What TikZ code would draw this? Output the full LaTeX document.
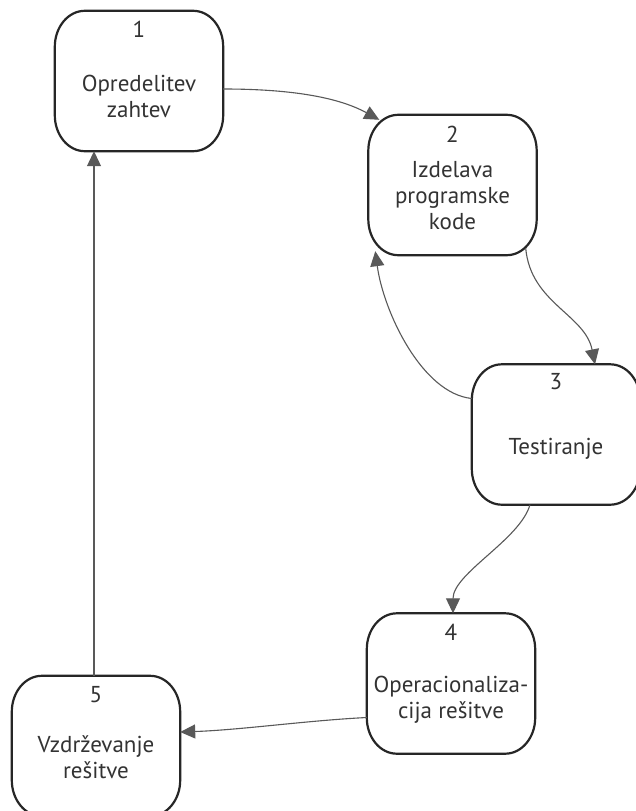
\documentclass[tikz,border=0pt]{standalone}
\usepackage{fontspec}
\setmainfont{PT Sans}
\usetikzlibrary{arrows.meta}
\begin{document}
\begin{tikzpicture}[x=1pt,y=-1pt,
  box/.style={minimum width=168pt, minimum height=140pt, inner sep=0pt},
  border/.style={draw=black!85, line width=2.2pt, line join=round},
  num/.style={font=\fontsize{23}{26}\selectfont, text=black!80, anchor=base, inner sep=0pt},
  lbl/.style={font=\fontsize{23}{26}\selectfont, text=black!80, align=center, anchor=base, inner sep=0pt},
  conn/.style={draw=black!65, line width=1.1pt, -{Triangle[length=15pt,width=14pt]}}]
\useasboundingbox[fill=white] (0,0) rectangle (635,811);

% boxes
\node[box] (b1) at (139,81) {};
\node[box] (b2) at (452.5,185) {};
\node[box] (b3) at (556,434.5) {};
\node[box] (b4) at (451,683.5) {};
\node[box] (b5) at (96,746) {};

\foreach \b in {b1,b2,b3,b4,b5}{
  \draw[border] ([xshift=-30pt]\b.north east)
    arc[start angle=90, end angle=0, x radius=30pt, y radius=36pt]
    -- ([yshift=36pt]\b.south east)
    arc[start angle=0, end angle=-90, x radius=30pt, y radius=36pt]
    -- ([xshift=30pt]\b.south west)
    arc[start angle=270, end angle=180, x radius=30pt, y radius=36pt]
    -- ([yshift=-36pt]\b.north west)
    arc[start angle=180, end angle=90, x radius=30pt, y radius=36pt]
    -- cycle;
}

% numbers
\node[num] (n1) at (139,37) {1};
\node[num] (n2) at (452.5,142) {2};
\node[num] (n3) at (556,389) {3};
\node[num] (n4) at (451,640) {4};
\node[num] (n5) at (96,702) {5};

% labels (base anchor = baseline of last line)
\node[lbl] (t1) at (139,117) {Opredelitev\\zahtev};
\node[lbl] (t2) at (452.5,229) {Izdelava\\programske\\kode};
\node[lbl] (t3) at (556,454) {Testiranje};
\node[lbl] (t4) at (451,718) {Operacionaliza-\\cija rešitve};
\node[lbl] (t5) at (96,778) {Vzdrževanje\\rešitve};

% connectors
\draw[conn] ([yshift=-8pt]b1.east) .. controls +(70,0) and +(-40,-22) .. ([shift={(11,5)}]b2.north west);
\draw[conn] ([shift={(-11,-7)}]b2.south east) .. controls +(5,55) and +(-10,-50) .. ([xshift=39pt]b3.north);
\draw[conn] ([shift={(0,-36)}]b3.west) .. controls +(-50,-5) and +(8,60) .. ([shift={(7,-4)}]b2.south west);
\draw[conn] ([xshift=-26pt]b3.south) .. controls +(-10,35) and +(0,-40) .. ([xshift=2pt]b4.north);
\draw[conn] ([shift={(0,34)}]b4.west) .. controls +(-60,3) and +(60,-2) .. ([shift={(0,-14)}]b5.east);
\draw[conn] ([xshift=-2pt]b5.north) -- ([xshift=-2pt]b5.north |- b1.south);
\end{tikzpicture}
\end{document}
